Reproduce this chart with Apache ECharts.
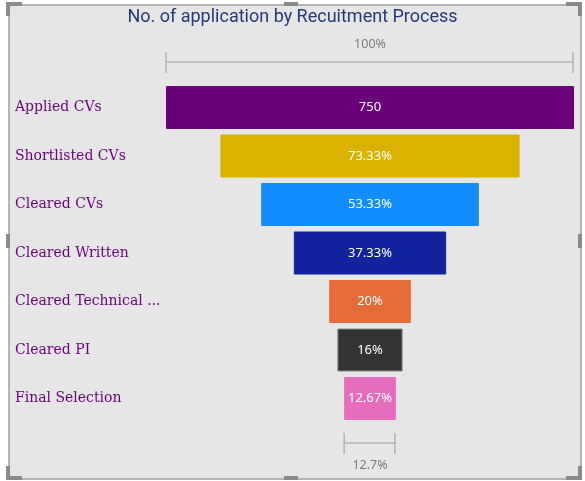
<!DOCTYPE html>
<html><head><meta charset="utf-8">
<script src="https://cdn.jsdelivr.net/npm/echarts@6/dist/echarts.min.js"></script>
<style>
html,body{margin:0;padding:0;background:#fff;}
#frame{position:absolute;left:8px;top:4px;width:570px;height:472px;border:2px solid #b4b4b4;background:#e6e6e6;box-sizing:content-box;}
.h{position:absolute;background:#8a8a8a;}
#chart{position:absolute;left:0;top:0;width:585px;height:481px;}
</style></head>
<body>
<div id="frame"></div>
<div class="h" style="left:6px;top:2px;width:16px;height:4px"></div>
<div class="h" style="left:6px;top:2px;width:4px;height:14px"></div>
<div class="h" style="left:566px;top:2px;width:16px;height:4px"></div>
<div class="h" style="left:578px;top:2px;width:4px;height:14px"></div>
<div class="h" style="left:6px;top:476px;width:16px;height:4px"></div>
<div class="h" style="left:6px;top:466px;width:4px;height:14px"></div>
<div class="h" style="left:566px;top:476px;width:16px;height:4px"></div>
<div class="h" style="left:578px;top:466px;width:4px;height:14px"></div>
<div class="h" style="left:284px;top:2px;width:14px;height:4px"></div>
<div class="h" style="left:284px;top:476px;width:14px;height:4px"></div>
<div class="h" style="left:6px;top:234px;width:4px;height:14px"></div>
<div class="h" style="left:578px;top:234px;width:4px;height:14px"></div>
<div id="chart"></div>
<script>
var title = 'No. of application by Recuitment Process';
var categories = ['Applied CVs','Shortlisted CVs','Cleared CVs','Cleared Written','Cleared Technical Round','Cleared PI','Final Selection'];
var values = [750, 550, 400, 280, 150, 120, 95];
var colors = ['#6B007B','#D9B300','#118DFF','#12239E','#E66C37','#333333','#E66CBD'];

var total = values[0];
var rows = [''].concat(categories).concat(['']);
function pct(v, d){ var s = (v / total * 100).toFixed(d); s = s.replace(/\.?0+$/, ''); return s + '%'; }
var baseData = ['-'].concat(values.map(function(v){ return (total - v) / 2; })).concat(['-']);
var barData = ['-'].concat(values.map(function(v, i){
  return {value: v, itemStyle: {color: colors[i], borderColor: i === 5 ? '#8a8a8a' : colors[i], borderWidth: 1},
          label: {formatter: i === 0 ? String(v) : pct(v, 2)}};
})).concat(['-']);
var bracketData = [
  [0, total, '100%', -1],
  [rows.length - 1, values[values.length - 1], pct(values[values.length - 1], 1), 1]
];

var chart = echarts.init(document.getElementById('chart'));
chart.setOption({
  backgroundColor: 'transparent',
  animation: false,
  title: {text: title, left: 'center', top: 3,
    textStyle: {color: '#223A78', fontFamily: 'Roboto', fontWeight: 'normal', fontSize: 18}},
  grid: {left: 166, right: 11, top: 34.75, bottom: 9.75, containLabel: false},
  xAxis: {type: 'value', min: 0, max: total, show: false},
  yAxis: {type: 'category', data: rows, inverse: true,
    axisLine: {show: false}, axisTick: {show: false}, splitLine: {show: false},
    axisLabel: {align: 'left', margin: 151, color: '#6B007B', fontFamily: 'DejaVu Serif', fontSize: 14,
      formatter: function(s){ return s.length > 18 ? s.slice(0, 17) + ' ...' : s; }}},
  series: [
    {type: 'bar', stack: 'f', data: baseData, itemStyle: {color: 'transparent'}, barWidth: 43, silent: true},
    {type: 'bar', stack: 'f', data: barData, barWidth: 43,
      label: {show: true, position: 'inside', color: '#ffffff', fontFamily: 'Noto Sans', fontSize: 13}},
    {type: 'custom', data: bracketData, silent: true, z: 5,
      renderItem: function(params, api){
        var row = api.value(0), w = api.value(1), dir = api.value(3);
        var a = api.coord([(total - w) / 2, row]);
        var b = api.coord([(total + w) / 2, row]);
        var y = a[1] + (dir < 0 ? 3 : -4);
        var st = {stroke: '#b3b3b3', lineWidth: 1.5};
        return {type: 'group', children: [
          {type: 'line', shape: {x1: a[0], y1: y, x2: b[0], y2: y}, style: st},
          {type: 'line', shape: {x1: a[0], y1: y - 10, x2: a[0], y2: y + 11}, style: st},
          {type: 'line', shape: {x1: b[0] - 1, y1: y - 10, x2: b[0] - 1, y2: y + 11}, style: st},
          {type: 'text', style: {text: bracketData[params.dataIndex][2], x: (a[0] + b[0]) / 2,
            y: dir < 0 ? y - 18 : y + 22, align: 'center', verticalAlign: 'middle',
            fill: '#7a7a7a', font: '12.5px "Noto Sans"'}}
        ]};
      }}
  ]
});
</script>
</body></html>
